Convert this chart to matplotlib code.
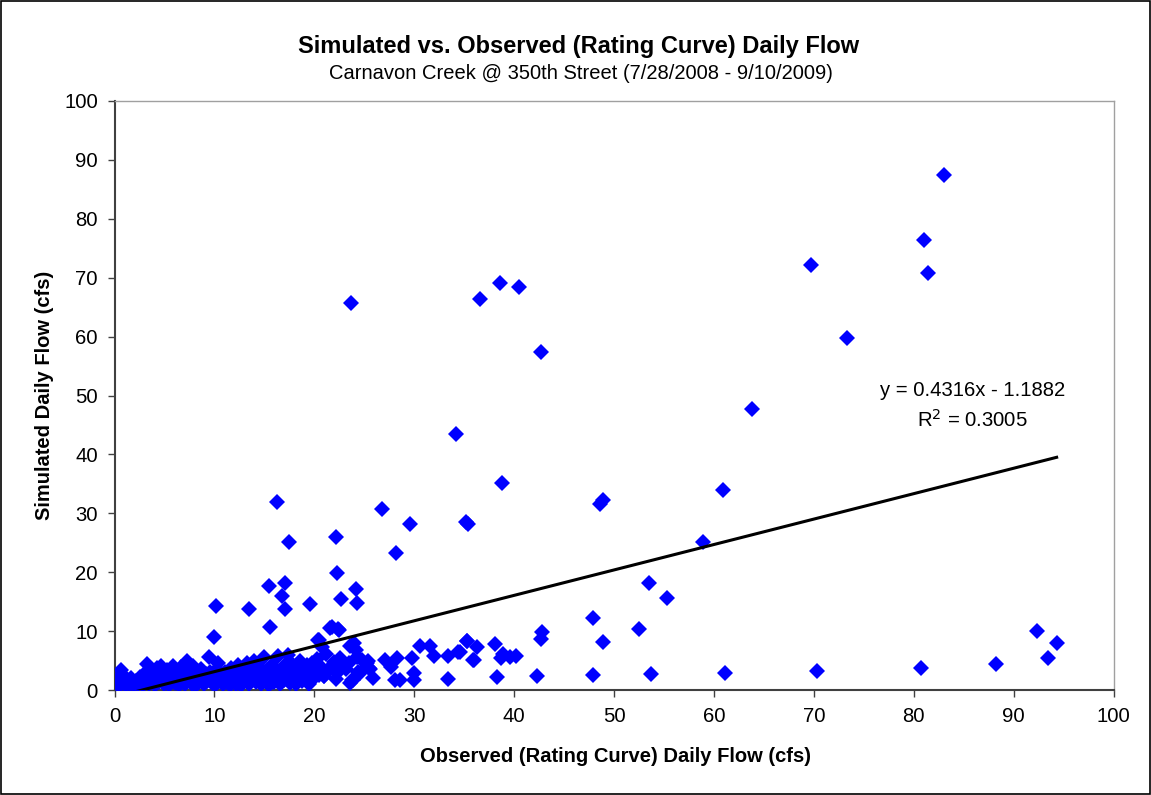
import matplotlib
matplotlib.use("Agg")
import matplotlib.pyplot as plt
from matplotlib.patches import Rectangle

plt.rcParams["font.family"] = ["Liberation Sans", "DejaVu Sans"]

# Low-flow days (dense cluster near the origin)
obs_low = [0.1, 0.2, 0.3, 0.4, 0.5, 0.6, 0.7, 0.9, 1.0, 1.1, 1.3, 1.5, 1.6, 1.8, 1.9,
           2.1, 2.3, 2.5, 2.7, 2.9, 3.0, 3.2, 3.3, 3.5, 3.6, 3.8, 4.0, 4.1, 4.3, 4.5, 4.6, 4.7, 4.9,
           5.0, 5.2, 5.3, 5.5, 5.6, 5.8, 5.9, 6.1, 6.2, 6.4, 6.5, 6.7, 6.8, 7.0, 7.1, 7.3, 7.4, 7.6, 7.8, 7.9,
           8.1, 8.2, 8.4, 8.5, 8.7, 8.9, 9.0, 9.2, 9.3, 9.5, 9.6, 9.8, 10.0, 10.1, 10.3, 10.4, 10.6, 10.8, 10.9,
           11.1, 11.2, 11.4, 11.6, 11.7, 11.9, 12.0, 12.2, 12.4, 12.5, 12.7, 12.9, 13.0, 13.2, 13.3, 13.5, 13.7, 13.8,
           14.0, 14.2, 14.3, 14.5, 14.7, 14.8, 15.0, 15.1, 15.3, 15.5, 15.6, 15.8, 16.0, 16.1, 16.3, 16.4, 16.6, 16.8, 16.9,
           17.0, 17.2, 17.3, 17.4, 17.6, 17.7, 17.9, 18.0, 18.2, 18.3, 18.5, 18.6, 18.8, 19.0, 19.1, 19.3, 19.5, 19.6, 19.8, 19.9,
           20.1, 20.3, 20.5, 20.6, 20.8, 21.0, 21.2, 21.4, 21.7, 22.0, 22.2, 22.3, 22.6, 22.9, 23.2, 23.5, 23.6, 23.6,
           23.9, 24.2, 24.3, 24.6, 24.8, 25.3, 25.5, 25.9, 20.5, 21.0, 21.7, 22.4, 24.0, 24.4, 25.4, 25.6, 23.8,
           27.1, 27.7, 28.3, 28.1, 28.6, 29.8, 30.0, 30.0, 30.6, 31.6, 32.0, 33.4, 33.4, 34.4, 35.9]
sim_low = [1.5, 1.1, 2.0, 1.3, 0.9, 3.4, 1.7, 1.2, 2.3, 0.8, 1.5, 1.0, 2.0, 1.3, 0.9,
           1.6, 1.0, 2.2, 1.3, 0.8, 2.7, 1.9, 4.4, 1.1, 3.2, 1.6, 2.4, 0.9, 3.7, 1.4, 2.9, 4.1, 1.8,
           1.0, 2.5, 3.4, 0.8, 1.7, 2.8, 4.0, 1.2, 3.1, 2.0, 0.9, 3.9, 1.5, 2.6, 1.1, 4.9, 2.2, 3.3, 1.0, 4.1,
           1.8, 0.9, 2.9, 1.4, 3.5, 2.3, 1.0, 2.7, 1.6, 5.6, 3.1, 1.2, 2.1, 0.8, 3.6, 4.6, 1.5, 2.5, 1.0,
           3.0, 1.3, 2.2, 0.9, 3.8, 1.7, 2.6, 1.1, 4.2, 2.0, 0.8, 3.0, 1.5, 2.4, 4.6, 1.1, 3.3, 2.0,
           5.0, 1.3, 2.8, 3.9, 1.0, 2.2, 5.6, 1.6, 3.4, 0.9, 2.6, 4.3, 1.4, 2.0, 3.1, 5.8, 1.1, 2.7, 3.8,
           1.7, 4.5, 2.3, 5.9, 1.2, 3.0, 4.2, 2.0, 1.0, 3.6, 2.5, 5.0, 1.5, 3.1, 2.0, 4.3, 1.1, 2.6, 4.6, 1.8,
           2.9, 5.3, 2.5, 4.0, 7.3, 2.4, 6.2, 3.4, 3.9, 4.8, 1.9, 2.9, 5.4, 4.3, 3.5, 4.6, 1.2, 7.5,
           1.7, 6.8, 5.6, 2.9, 5.1, 4.6, 3.7, 2.0, 8.5, 2.4, 3.9, 3.4, 8.0, 3.1, 5.0, 3.5, 1.7,
           5.1, 3.9, 5.4, 1.7, 1.7, 5.4, 2.9, 1.7, 7.5, 7.5, 5.8, 5.8, 1.9, 6.5, 5.1]

# Storm-response days (scattered higher flows)
obs_high = [23.7, 36.6, 38.6, 40.5, 42.7, 34.2, 38.8, 16.3, 17.5, 22.2, 26.8, 29.6, 35.4, 35.2,
            28.2, 22.3, 15.5, 17.1, 19.6, 24.2, 24.3, 22.7, 16.8, 17.1, 13.5, 10.2, 9.95, 15.6,
            21.6, 22.4, 20.4, 21.8, 22.5, 48.6, 48.9, 60.9, 58.9, 63.8, 69.7, 73.3, 81.0, 81.4, 83.0,
            53.5, 55.3, 52.5, 47.9, 42.8, 42.7, 48.9, 92.3, 94.3, 93.4, 88.2, 80.7, 70.3, 61.1,
            53.7, 47.9, 42.3, 38.3, 35.3, 36.3, 34.6, 36.0, 38.1, 38.9, 38.7, 39.6, 40.2, 35.3]
sim_high = [65.7, 66.4, 69.1, 68.5, 57.4, 43.5, 35.1, 31.9, 25.1, 26.0, 30.7, 28.2, 28.2, 28.5,
            23.3, 19.9, 17.7, 18.2, 14.6, 17.1, 14.8, 15.5, 16.0, 13.7, 13.8, 14.3, 9.0, 10.7,
            10.5, 10.4, 8.5, 10.7, 10.2, 31.6, 32.3, 34.0, 25.1, 47.7, 72.2, 59.8, 76.4, 70.8, 87.5,
            18.2, 15.6, 10.3, 12.3, 9.9, 8.6, 8.1, 10.1, 8.0, 5.4, 4.4, 3.7, 3.2, 2.9,
            2.7, 2.5, 2.4, 2.2, 8.4, 7.3, 6.5, 5.1, 7.8, 6.1, 5.4, 5.6, 5.8, 8.3]

# Linear trendline as reported on the chart
slope = 0.4316
intercept = -1.1882
r_squared = 0.3005

x_ticks = list(range(0, 101, 10))
y_ticks = list(range(0, 101, 10))

fig = plt.figure(figsize=(11.51, 7.95), dpi=100)
ax = fig.add_axes([0.0995, 0.132, 0.868, 0.741])

obs_all = obs_low + obs_high
sim_all = sim_low + sim_high
ax.plot(obs_all, sim_all, linestyle="none", marker="D", markersize=8.3,
        color="#0000FF", markeredgewidth=0, zorder=3)

x_line = [min(obs_all), max(obs_all)]
y_line = [slope * v + intercept for v in x_line]
ax.plot(x_line, y_line, color="black", linewidth=2.2, zorder=4)

ax.text(85.9, 50.9, f"y = {slope:.4f}x - {abs(intercept):.4f}", ha="center", va="center",
        fontsize=14.6)
ax.text(85.9, 45.8, f"R$^2$ = {r_squared:.4f}", ha="center", va="center", fontsize=14.6)

ax.set_xlim(0, 100)
ax.set_ylim(0, 100)
ax.set_xticks(x_ticks)
ax.set_yticks(y_ticks)
ax.tick_params(direction="out", length=5, width=1, color="#404040", labelsize=14.6, pad=7)

for side in ("left", "bottom"):
    ax.spines[side].set_color("#404040")
    ax.spines[side].set_linewidth(1.5)
for side in ("top", "right"):
    ax.spines[side].set_color("#A0A0A0")
    ax.spines[side].set_linewidth(1.0)

fig.text(0.503, 0.941, "Simulated vs. Observed (Rating Curve) Daily Flow", ha="center", va="center",
         fontsize=17, fontweight="bold")
fig.text(0.505, 0.907, "Carnavon Creek @ 350th Street (7/28/2008 - 9/10/2009)", ha="center",
         va="center", fontsize=14.5)
fig.text(0.535, 0.048, "Observed (Rating Curve) Daily Flow (cfs)", ha="center", va="center",
         fontsize=14.5, fontweight="bold")
fig.text(0.039, 0.503, "Simulated Daily Flow (cfs)", ha="center", va="center", rotation=90,
         fontsize=14.5, fontweight="bold")

fig.patches.append(Rectangle((0.0005, 0.0008), 0.999, 0.998, transform=fig.transFigure,
                             fill=False, edgecolor="black", linewidth=1.2))

fig.savefig("out.png", dpi=100)
